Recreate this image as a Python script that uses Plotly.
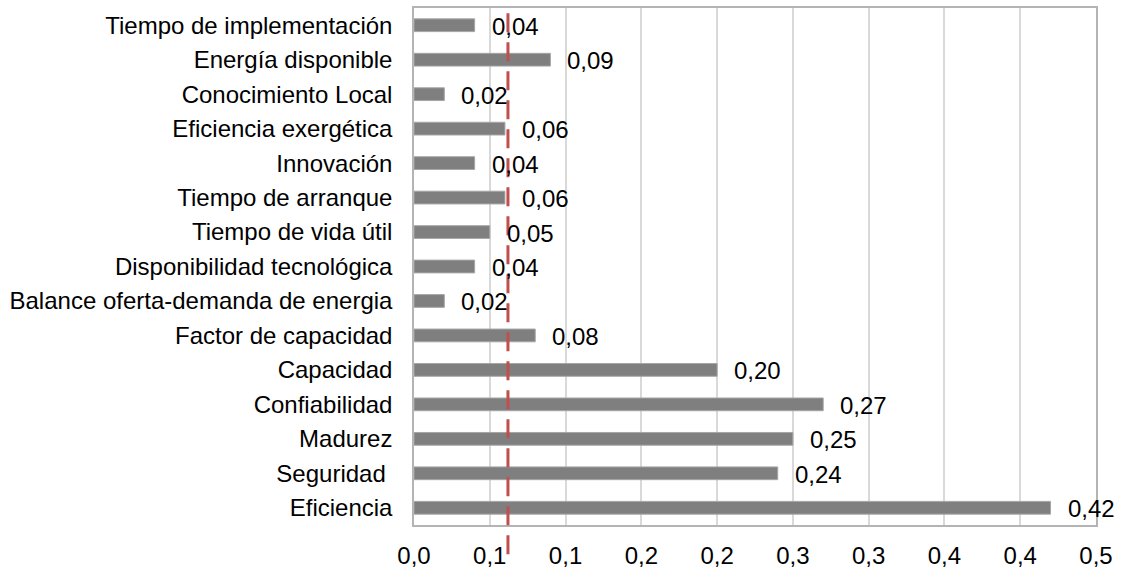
import plotly.graph_objects as go

# Criteria (top to bottom) and their weights
criterios = [
    "Tiempo de implementación",
    "Energía disponible",
    "Conocimiento Local",
    "Eficiencia exergética",
    "Innovación",
    "Tiempo de arranque",
    "Tiempo de vida útil",
    "Disponibilidad tecnológica",
    "Balance oferta-demanda de energia",
    "Factor de capacidad",
    "Capacidad",
    "Confiabilidad",
    "Madurez",
    "Seguridad\u00a0",
    "Eficiencia",
]
pesos = [0.04, 0.09, 0.02, 0.06, 0.04, 0.06, 0.05, 0.04, 0.02, 0.08,
         0.20, 0.27, 0.25, 0.24, 0.42]
etiquetas = ["0,04", "0,09", "0,02", "0,06", "0,04", "0,06", "0,05", "0,04",
             "0,02", "0,08", "0,20", "0,27", "0,25", "0,24", "0,42"]

# Reference threshold line
umbral = 0.062

# X axis ticks
x_ticks = [0.0, 0.05, 0.10, 0.15, 0.20, 0.25, 0.30, 0.35, 0.40, 0.45]
x_ticktext = ["0,0", "0,1", "0,1", "0,2", "0,2", "0,3", "0,3", "0,4", "0,4", "0,5"]

FONT = "Liberation Sans, Arial, sans-serif"
FS = 24

fig = go.Figure()
fig.add_trace(go.Bar(
    x=pesos,
    y=criterios,
    orientation="h",
    width=0.37,
    marker=dict(color="#7f7f7f", line=dict(color="#a6a6a6", width=1)),
    hoverinfo="x+y",
))

for c, v, t in zip(criterios, pesos, etiquetas):
    fig.add_annotation(
        x=v, y=c, text=t, showarrow=False,
        xanchor="left", yanchor="middle", xshift=15, yshift=-1,
        font=dict(family=FONT, size=FS, color="#000000"),
    )

fig.add_shape(
    type="line", xref="x", yref="paper",
    x0=umbral, x1=umbral, y0=0.99, y1=-0.058,
    line=dict(color="#c0504d", width=3, dash="19px,10px"),
    layer="above",
)

fig.update_layout(
    width=1130, height=569,
    margin=dict(l=414, r=34, t=8, b=44),
    paper_bgcolor="white", plot_bgcolor="white",
    showlegend=False,
    font=dict(family=FONT, size=FS, color="#000000"),
)
fig.update_xaxes(
    range=[0, 0.45], tickvals=x_ticks, ticktext=x_ticktext,
    showgrid=True, gridcolor="#d9d9d9", gridwidth=1.5,
    showline=True, linecolor="#b4b4b4", linewidth=1.5, mirror=True,
    zeroline=False, ticks="", ticklabelstandoff=8, automargin=False,
    tickfont=dict(family=FONT, size=FS, color="#000000"),
)
fig.update_yaxes(
    autorange="reversed", showgrid=False,
    showline=True, linecolor="#b4b4b4", linewidth=1.5, mirror=True,
    ticks="", ticklabelstandoff=15, automargin=False,
    tickfont=dict(family=FONT, size=FS, color="#000000"),
)

fig.write_html("out.html")
